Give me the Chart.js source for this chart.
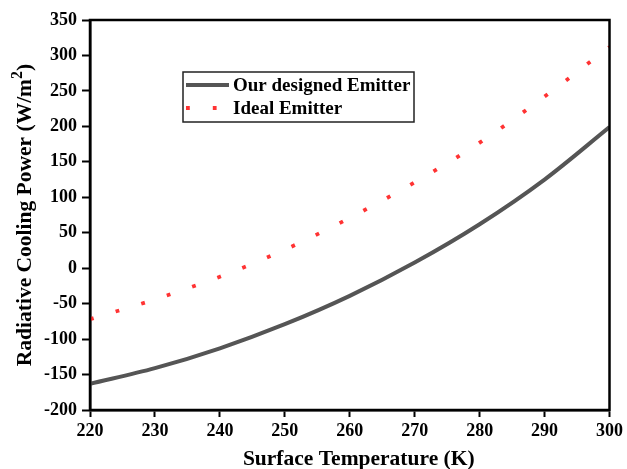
<!DOCTYPE html>
<html>
<head>
<meta charset="utf-8">
<script src="https://cdn.jsdelivr.net/npm/chart.js@4"></script>
<style>
  html, body { margin: 0; padding: 0; background: #fff; }
  #wrap { width: 627px; height: 469px; }
</style>
</head>
<body>
<div id="wrap"><canvas id="cooling"></canvas></div>
<script>
// ── Data ────────────────────────────────────────────────────────

const temps        = [220, 230, 240, 250, 260, 270, 280, 290, 300];
const designedPow  = [-163, -141, -113, -79, -39, 8, 62, 125, 199];
const idealPow     = [-72, -44, -12, 26, 71, 121, 177, 242, 312];

const seriesNames  = ["Our designed Emitter", "Ideal Emitter"];
const xTitle       = "Surface Temperature (K)";
const yTitleParts  = ["Radiative Cooling Power (W/m", "2", ")"];

const SERIF = "'Liberation Serif', 'Times New Roman', serif";
const toXY = (ys) => ys.map((y, i) => ({ x: temps[i], y }));

// ── Plugins ─────────────────────────────────────────────────────

// box around the plot area (the top/right spines)
const frame = {
  id: "frame",
  afterDraw(chart) {
    const { ctx, chartArea: a } = chart;
    ctx.save();
    ctx.strokeStyle = "#000";
    ctx.lineWidth = 2.5;
    ctx.strokeRect(a.left, a.top, a.right - a.left, a.bottom - a.top);
    ctx.restore();
  },
};

// axis titles drawn by hand so the "2" can be a real superscript
const axisTitles = {
  id: "axisTitles",
  afterDraw(chart) {
    const { ctx, chartArea: a } = chart;
    const big = `bold 21.5px ${SERIF}`;
    const small = `bold 16px ${SERIF}`;
    ctx.save();
    ctx.fillStyle = "#000";
    ctx.textBaseline = "middle";

    // x title, sits a little right of the plot centre
    ctx.font = big;
    ctx.textAlign = "center";
    ctx.fillText(xTitle, (a.left + a.right) / 2 + 9, 459);

    // y title, rotated
    ctx.textAlign = "left";
    ctx.translate(25.5, (a.top + a.bottom) / 2);
    ctx.rotate(-Math.PI / 2);
    const w0 = ctx.measureText(yTitleParts[0]).width;
    const w2 = ctx.measureText(yTitleParts[2]).width;
    ctx.font = small;
    const w1 = ctx.measureText(yTitleParts[1]).width;
    let x = -(w0 + w1 + w2) / 2;
    ctx.font = big;
    ctx.fillText(yTitleParts[0], x, 0);
    x += w0;
    ctx.font = small;
    ctx.fillText(yTitleParts[1], x, -8);
    x += w1;
    ctx.font = big;
    ctx.fillText(yTitleParts[2], x, 0);
    ctx.restore();
  },
};

// boxed legend inside the plot, Origin style
const boxLegend = {
  id: "boxLegend",
  afterDraw(chart) {
    const { ctx, chartArea: a } = chart;
    const left = a.left + 93, top = a.top + 52;
    const w = 231, h = 50;
    ctx.save();
    ctx.fillStyle = "#fff";
    ctx.fillRect(left, top, w, h);
    ctx.strokeStyle = "#222";
    ctx.lineWidth = 1.5;
    ctx.strokeRect(left, top, w, h);

    chart.data.datasets.forEach((ds, i) => {
      const y = top + 13 + i * 23;
      ctx.beginPath();
      ctx.strokeStyle = ds.borderColor;
      ctx.lineWidth = ds.borderWidth;
      ctx.setLineDash(ds.borderDash || []);
      ctx.moveTo(left + 3, y);
      ctx.lineTo(left + 46, y);
      ctx.stroke();
      ctx.setLineDash([]);
      ctx.fillStyle = "#000";
      ctx.font = `bold 19px ${SERIF}`;
      ctx.textBaseline = "middle";
      ctx.fillText(ds.label, left + 50, y + 1);
    });
    ctx.restore();
  },
};

// ── Chart ───────────────────────────────────────────────────────

const tickFont = { family: SERIF, size: 18, weight: "bold" };

new Chart(document.getElementById("cooling"), {
  type: "line",
  data: {
    datasets: [
      {
        label: seriesNames[0],
        data: toXY(designedPow),
        borderColor: "#555555",
        borderWidth: 4,
        pointRadius: 0,
        cubicInterpolationMode: "monotone",
        fill: false,
      },
      {
        label: seriesNames[1],
        data: toXY(idealPow),
        borderColor: "#ff3333",
        borderWidth: 3.8,
        borderDash: [3.8, 23],
        borderCapStyle: "butt",
        pointRadius: 0,
        cubicInterpolationMode: "monotone",
        fill: false,
      },
    ],
  },
  options: {
    responsive: true,
    maintainAspectRatio: false,
    animation: false,
    layout: { padding: { top: 20, right: 15, left: 0, bottom: 0 } },
    plugins: {
      legend: { display: false },
      tooltip: { enabled: false },
    },
    scales: {
      x: {
        type: "linear",
        min: 220,
        max: 300,
        afterFit: (s) => { s.height = 59; },
        ticks: { stepSize: 10, color: "#000", font: tickFont, padding: 4, maxRotation: 0 },
        grid: { drawOnChartArea: false, tickLength: 7, tickWidth: 2, color: "#000" },
        border: { color: "#000", width: 2.5 },
      },
      y: {
        min: -200,
        max: 350,
        afterFit: (s) => { s.width = 90; },
        ticks: { stepSize: 50, color: "#000", font: tickFont, padding: 5 },
        grid: { drawOnChartArea: false, tickLength: 8, tickWidth: 2, color: "#000" },
        border: { color: "#000", width: 2.5 },
      },
    },
  },
  plugins: [frame, axisTitles, boxLegend],
});
</script>
</body>
</html>
